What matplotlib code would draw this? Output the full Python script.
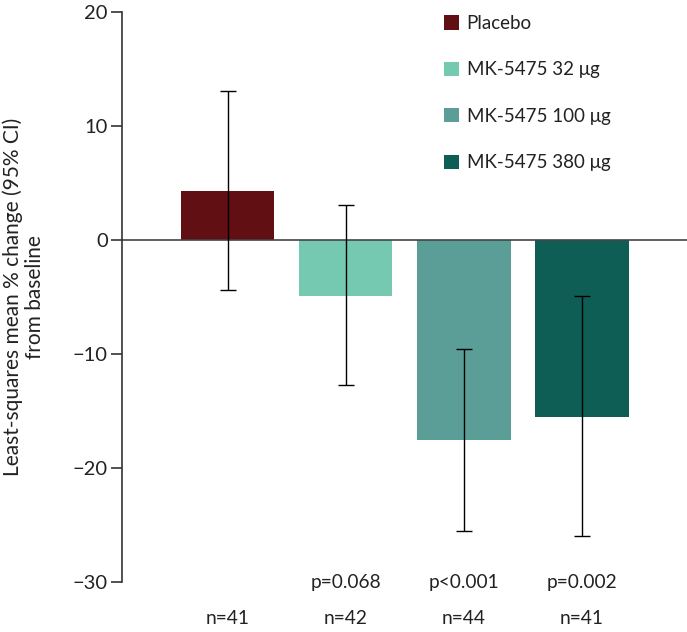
import matplotlib.pyplot as plt
from matplotlib.patches import Patch
from matplotlib.transforms import offset_copy

# === DATA ===
groups = ["Placebo", "MK-5475 32 μg", "MK-5475 100 μg", "MK-5475 380 μg"]
means = [4.3, -4.9, -17.55, -15.5]
ci_low = [-4.35, -12.75, -25.55, -26.0]
ci_high = [13.05, 3.1, -9.6, -4.95]
p_labels = ["", "p=0.068", "p<0.001", "p=0.002"]
n_labels = ["n=41", "n=42", "n=44", "n=41"]
colors = ["#620f14", "#76c9b1", "#5b9e97", "#0e5e55"]

plt.rcParams['font.family'] = ['Lato', 'DejaVu Sans']
FS = 13.8
TXT = "#222222"

fig = plt.figure(figsize=(6.87, 6.32), dpi=100)
ax = fig.add_axes([0.177, 0.079, 0.823, 0.902])

x = list(range(len(groups)))
err_lo = [m - lo for m, lo in zip(means, ci_low)]
err_hi = [hi - m for m, hi in zip(means, ci_high)]

ax.bar(x, means, width=0.79, color=colors, zorder=2)
ax.errorbar(x, means, yerr=[err_lo, err_hi], fmt='none', ecolor='black',
            elinewidth=1.0, capsize=6, capthick=1.0, zorder=3)
ax.axhline(0, color='#444444', linewidth=1.2, zorder=2)

ax.set_xlim(-0.9, 3.89)
ax.set_ylim(-30, 20)
ax.set_yticks([-30, -20, -10, 0, 10, 20])
ax.set_xticks([])
for s in ['top', 'right', 'bottom']:
    ax.spines[s].set_visible(False)
ax.spines['left'].set_color('#333333')
ax.spines['left'].set_linewidth(1.2)
ax.tick_params(axis='y', direction='out', length=8, width=1.2, color='#333333',
               labelsize=14.5, labelcolor=TXT, pad=2)

ax.set_ylabel("Least-squares mean % change (95% CI)\nfrom baseline",
              fontsize=15, color=TXT, labelpad=20, linespacing=1.1)

# p-values and n below the bars
p_tr = offset_copy(ax.get_xaxis_transform(), fig=fig, x=0, y=0, units='points')
n_tr = offset_copy(ax.get_xaxis_transform(), fig=fig, x=0, y=-26, units='points')
for i in x:
    ax.text(i, 0, p_labels[i], transform=p_tr, ha='center', va='center',
            fontsize=FS, color=TXT, clip_on=False)
    ax.text(i, 0, n_labels[i], transform=n_tr, ha='center', va='center',
            fontsize=FS, color=TXT, clip_on=False)

handles = [Patch(facecolor=c, edgecolor='none') for c in colors]
leg = ax.legend(handles, groups, loc='upper left', bbox_to_anchor=(0.557, 1.008),
                frameon=False, fontsize=13.5, handlelength=0.8, handleheight=0.8,
                handletextpad=0.4, labelspacing=1.57, borderaxespad=0)
for t in leg.get_texts():
    t.set_color(TXT)

plt.savefig("out.png", dpi=100)
